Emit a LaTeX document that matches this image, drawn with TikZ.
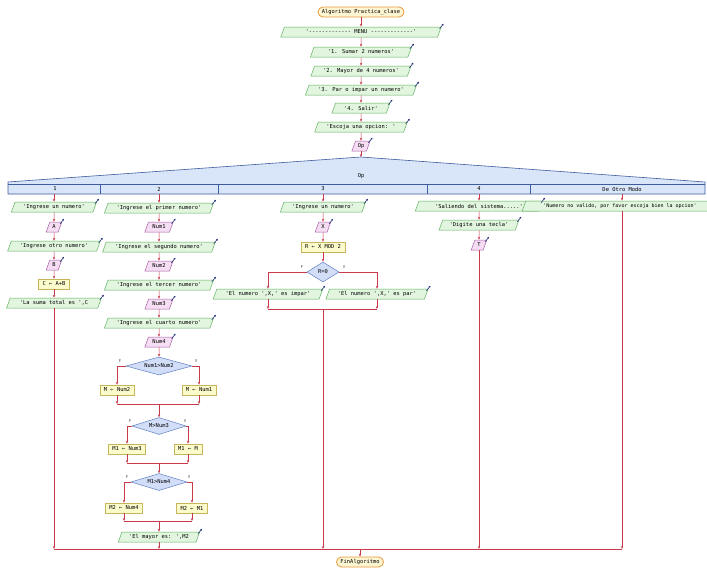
\documentclass[tikz,border=0pt]{standalone}
\usepackage{fontspec}
\newfontfamily\pmono{DejaVu Sans Mono}
\usetikzlibrary{shapes.geometric,arrows.meta}
\definecolor{outF}{HTML}{E2F5DE}
\definecolor{outB}{HTML}{5FB35F}
\definecolor{readF}{HTML}{F5DDF3}
\definecolor{readB}{HTML}{A860A8}
\definecolor{asgF}{HTML}{FCFBCB}
\definecolor{asgB}{HTML}{C8B45A}
\definecolor{decF}{HTML}{D2DEF8}
\definecolor{decB}{HTML}{5F7FC4}
\definecolor{trmF}{HTML}{FDF6D2}
\definecolor{trmB}{HTML}{E89A3A}
\definecolor{segF}{HTML}{D9E5F8}
\definecolor{segB}{HTML}{3F5C9E}
\definecolor{lnC}{HTML}{C83A4A}
\definecolor{icoC}{HTML}{1F2F78}
\newcommand{\pf}{\pmono\fontsize{5.4}{6}\selectfont}
\begin{document}
\begin{tikzpicture}[x=1pt,y=-1pt,
  base/.style={font=\pf, line width=0.5pt, inner ysep=1.8pt, inner xsep=3pt, minimum height=10pt},
  outbox/.style={base, trapezium, trapezium left angle=70, trapezium right angle=110, draw=outB, fill=outF},
  rd/.style={base, trapezium, trapezium left angle=70, trapezium right angle=110, draw=readB, fill=readF, inner xsep=1.5pt},
  asg/.style={base, rectangle, draw=asgB, fill=asgF, inner xsep=4pt},
  dec/.style={font=\pf, diamond, draw=decB, fill=decF, line width=0.5pt, inner sep=0.5pt},
  term/.style={base, rectangle, rounded corners=5pt, draw=trmB, fill=trmF, line width=0.8pt, inner xsep=4pt},
  flow/.style={draw=lnC, line width=0.5pt, -{Stealth[length=3pt,width=2.4pt]}},
  ln/.style={draw=lnC, line width=0.5pt},
  icon/.style={draw=icoC, line width=0.6pt, -{Stealth[length=2pt,width=2pt]}},
  tf/.style={font=\pmono\fontsize{4}{4}\selectfont, text=black!70, inner sep=0.5pt},
  seglab/.style={font=\pf, inner sep=0.5pt}]
\useasboundingbox (0,0) rectangle (707,570);
\fill[white] (0,0) rectangle (707,570);

% ---- main sequence ----
\node[term] (title) at (361,12) {Algoritmo Practica\_clase};
\node[outbox] (menu) at (361,32) {'------------- MENU -------------'};
\node[outbox] (s1) at (361,52) {'1. Sumar 2 numeros'};
\node[outbox] (s2) at (361,71) {'2. Mayor de 4 numeros'};
\node[outbox] (s3) at (361,90) {'3. Par o impar un numero'};
\node[outbox] (s4) at (361,108) {'4. Salir'};
\node[outbox] (esc) at (361,127) {'Escoja una opcion: '};
\node[rd] (op) at (361,146) {Op};
\coordinate (apex) at (361,157);

\draw[flow] (title) -- (menu);
\draw[flow] (menu) -- (s1);
\draw[flow] (s1) -- (s2);
\draw[flow] (s2) -- (s3);
\draw[flow] (s3) -- (s4);
\draw[flow] (s4) -- (esc);
\draw[flow] (esc) -- (op);
\draw[flow] (op) -- (apex);

% ---- Segun block ----
\draw[draw=segB, fill=segF, line width=0.6pt] (8,194) -- (8,182) -- (361,157) -- (705,182) -- (705,194) -- cycle;
\draw[segB, line width=0.5pt] (8,184) -- (705,184);
\foreach \xd in {100,218,427,530} \draw[segB, line width=0.5pt] (\xd,184) -- (\xd,194);
\node[seglab] (segop) at (361,176) {Op};
\node[seglab] (case1) at (55,189) {1};
\node[seglab] (case2) at (159,189) {2};
\node[seglab] (case3) at (323,189) {3};
\node[seglab] (case4) at (479,189) {4};
\node[seglab] (case5) at (622,189) {De Otro Modo};
\coordinate (b1) at (54,194);
\coordinate (b2) at (159,194);
\coordinate (b3) at (323,194);
\coordinate (b4) at (479,194);
\coordinate (b5) at (622,194);

% ---- case 1: sum ----
\node[outbox] (c1a) at (54,207) {'Ingrese un numero'};
\node[rd] (c1b) at (54,227) {A};
\node[outbox] (c1c) at (54,246) {'Ingrese otro numero'};
\node[rd] (c1d) at (54,265) {B};
\node[asg] (c1e) at (54,284) {C ← A+B};
\node[outbox] (c1f) at (54,303) {'La suma total es ',C};
\draw[flow] (b1) -- (c1a);
\draw[flow] (c1a) -- (c1b);
\draw[flow] (c1b) -- (c1c);
\draw[flow] (c1c) -- (c1d);
\draw[flow] (c1d) -- (c1e);
\draw[flow] (c1e) -- (c1f);

% ---- case 2: largest of four ----
\node[outbox] (c2a) at (159,208) {'Ingrese el primer numero'};
\node[rd] (c2b) at (159,227) {Num1};
\node[outbox] (c2c) at (159,247) {'Ingrese el segundo numero'};
\node[rd] (c2d) at (159,266) {Num2};
\node[outbox] (c2e) at (159,285) {'Ingrese el tercer numero'};
\node[rd] (c2f) at (159,304) {Num3};
\node[outbox] (c2g) at (159,323) {'Ingrese el cuarto numero'};
\node[rd] (c2h) at (159,342) {Num4};
\draw[flow] (b2) -- (c2a);
\draw[flow] (c2a) -- (c2b);
\draw[flow] (c2b) -- (c2c);
\draw[flow] (c2c) -- (c2d);
\draw[flow] (c2d) -- (c2e);
\draw[flow] (c2e) -- (c2f);
\draw[flow] (c2f) -- (c2g);
\draw[flow] (c2g) -- (c2h);

\node[dec, aspect=3.5, minimum width=66pt, minimum height=18pt] (d1) at (159,366) {Num1>Num2};
\node[asg] (a1L) at (117,390) {M ← Num2};
\node[asg] (a1R) at (199,390) {M ← Num1};
\coordinate (j1) at (159,404);
\draw[flow] (c2h) -- (d1);
\draw[flow] (d1.west) -| (a1L);
\draw[flow] (d1.east) -| (a1R);
\node[tf] at (120,361) {F};
\node[tf] at (196,361) {V};
\draw[flow] (a1L) -- (a1L |- j1);
\draw[flow] (a1R) -- (a1R |- j1);
\draw[ln] (a1L |- j1) -- (a1R |- j1);

\node[dec, aspect=3, minimum width=54pt, minimum height=17pt] (d2) at (159,426) {M>Num3};
\node[asg] (a2L) at (127,449) {M1 ← Num3};
\node[asg] (a2R) at (188,449) {M1 ← M};
\coordinate (j2) at (159,463);
\draw[flow] (j1) -- (d2);
\draw[flow] (d2.west) -| (a2L);
\draw[flow] (d2.east) -| (a2R);
\node[tf] at (130,421) {F};
\node[tf] at (185,421) {V};
\draw[flow] (a2L) -- (a2L |- j2);
\draw[flow] (a2R) -- (a2R |- j2);
\draw[ln] (a2L |- j2) -- (a2R |- j2);

\node[dec, aspect=3, minimum width=56pt, minimum height=17pt] (d3) at (159,482) {M1>Num4};
\node[asg] (a3L) at (124,508) {M2 ← Num4};
\node[asg] (a3R) at (192,508) {M2 ← M1};
\coordinate (j3) at (159,521);
\draw[flow] (j2) -- (d3);
\draw[flow] (d3.west) -| (a3L);
\draw[flow] (d3.east) -| (a3R);
\node[tf] at (127,477) {F};
\node[tf] at (189,477) {V};
\draw[flow] (a3L) -- (a3L |- j3);
\draw[flow] (a3R) -- (a3R |- j3);
\draw[ln] (a3L |- j3) -- (a3R |- j3);

\node[outbox] (c2z) at (159,537) {'El mayor es: ',M2};
\draw[flow] (j3) -- (c2z);

% ---- case 3: even or odd ----
\node[outbox] (c3a) at (323,207) {'Ingrese un numero'};
\node[rd] (c3b) at (323,227) {X};
\node[asg] (c3c) at (323,247) {R ← X MOD 2};
\node[dec, aspect=2, minimum width=32pt, minimum height=20pt] (d4) at (323,272) {R=0};
\node[outbox] (c3L) at (268,294) {'El numero ',X,' es impar'};
\node[outbox] (c3R) at (377,294) {'El numero ',X,' es par'};
\coordinate (j4) at (323,309);
\draw[flow] (b3) -- (c3a);
\draw[flow] (c3a) -- (c3b);
\draw[flow] (c3b) -- (c3c);
\draw[flow] (c3c) -- (d4);
\draw[flow] (d4.west) -| (c3L);
\draw[flow] (d4.east) -| (c3R);
\node[tf] at (302,267) {F};
\node[tf] at (344,267) {V};
\draw[flow] (c3L) -- (c3L |- j4);
\draw[flow] (c3R) -- (c3R |- j4);
\draw[ln] (c3L |- j4) -- (c3R |- j4);

% ---- case 4: exit ----
\node[outbox] (c4a) at (479,206) {'Saliendo del sistema.....'};
\node[outbox] (c4b) at (479,225) {'Digite una tecla'};
\node[rd] (c4c) at (479,245) {T};
\draw[flow] (b4) -- (c4a);
\draw[flow] (c4a) -- (c4b);
\draw[flow] (c4b) -- (c4c);

% ---- otherwise ----
\node[outbox, font=\pmono\fontsize{5}{6}\selectfont] (c5a) at (620,206) {'Numero no valido, por favor escoja bien la opcion'};
\draw[flow] (b5) -- (b5 |- c5a.north);

% ---- closing ----
\coordinate (e1) at (54,549);
\coordinate (e5) at (622,549);
\coordinate (em) at (360,549);
\draw[flow] (c1f) -- (c1f |- e1);
\draw[flow] (c2z) -- (c2z |- e1);
\draw[flow] (j4) -- (j4 |- e1);
\draw[flow] (c4c) -- (c4c |- e1);
\draw[flow] (b5 |- c5a.south) -- (e5);
\draw[ln] (e1) -- (e5);
\node[term] (fin) at (360,562) {FinAlgoritmo};
\draw[flow] (em) -- (fin);

% ---- in/out markers on the input and output symbols ----
\foreach \n in {menu,s1,s2,s3,s4,esc,op,c1a,c1b,c1c,c1d,c1f,c2a,c2b,c2c,c2d,c2e,c2f,c2g,c2h,c2z,c3a,c3b,c3L,c3R,c4a,c4b,c4c,c5a}
  \draw[icon] ([shift={(-2,2)}]\n.top right corner) -- ++(4,-5);
\end{tikzpicture}
\end{document}
